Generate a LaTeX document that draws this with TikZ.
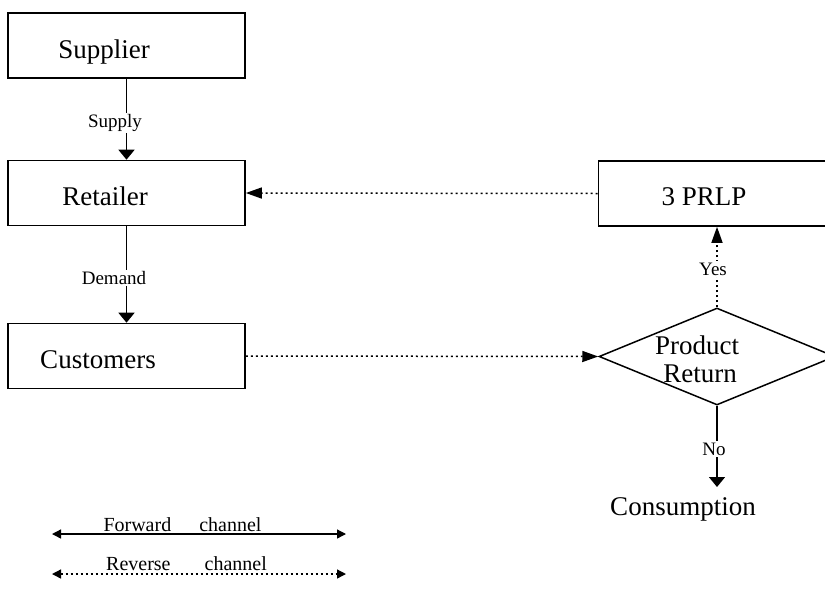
\documentclass[tikz,border=0pt]{standalone}
\usepackage{fontspec}
\setmainfont{Liberation Serif}
\usetikzlibrary{arrows.meta,shapes.geometric}
\begin{document}
\begin{tikzpicture}[x=1pt,y=-1pt,
  box/.style={draw,line width=1.6pt,minimum width=237pt,minimum height=65pt,inner sep=0pt},
  big/.style={font=\fontsize{27}{30}\selectfont,anchor=base,inner sep=0pt},
  small/.style={font=\fontsize{19}{22}\selectfont,fill=white,inner sep=1.5pt},
  legtext/.style={font=\fontsize{20}{22}\selectfont,anchor=base,inner sep=0pt},
  solidarrow/.style={line width=1.5pt,-{Triangle[width=16pt,length=10pt]}},
  dotline/.style={line width=1.5pt,dash pattern=on 2pt off 3pt},
  dotarrow/.style={dotline,-{Triangle[width=11pt,length=16pt]}},
  legarrow/.style={line width=1.3pt,{Triangle[width=9pt,length=9pt]}-{Triangle[width=9pt,length=9pt]}},
]
\useasboundingbox (0,0) rectangle (825,606);
\clip (0,0) rectangle (825,606);

% boxes
\node[box] (sup) at (126.5,45.5) {};
\node[box] (ret) at (126.5,193) {};
\node[box] (cus) at (126.5,356) {};
\node[box] (prlp) at (717,193.5) {};
\node[draw,diamond,line width=1.5pt,minimum width=236pt,minimum height=97pt,inner sep=0pt,aspect=2.43] (dia) at (717,356.5) {};

% texts
\node[big] (supt) at (104,58.5) {Supplier};
\node[big] (rett) at (105,205.5) {Retailer};
\node[big] (cust) at (98,368.5) {Customers};
\node[big] (prlpt) at (704,205.5) {3 PRLP};
\node[big] (prodt) at (697,354) {Product};
\node[big] (retnt) at (700,382) {Return};
\node[big] (cons) at (683,515) {Consumption};
\coordinate (consTop) at (717,487);

% connectors
\draw[solidarrow] (sup.south) -- (ret.north);
\node[small] (supply) at (115,123) {Supply};
\draw[solidarrow] (ret.south) -- (cus.north);
\node[small] (demand) at (114,278) {Demand};
\draw[dotarrow] (prlp.west) -- (ret.east);
\draw[dotarrow] (cus.east) -- (dia.west);
\draw[dotarrow] (dia.north) -- (prlp.south);
\node[small] (yes) at (713,269) {Yes};
\draw[solidarrow] (dia.south) -- (consTop);
\node[small] (no) at (714,449) {No};

% legend
\coordinate (f1) at (52,534);
\coordinate (f2) at (346,534);
\draw[legarrow] (f1) -- (f2);
\node[legtext] (fwd) at (182.5,531.5) {Forward\hspace{28pt}channel};
\coordinate (r1) at (52,574);
\coordinate (r2) at (346,574);
\draw[legarrow,dash pattern=on 2pt off 3pt] (r1) -- (r2);
\node[legtext] (rev) at (186.5,570.5) {Reverse\hspace{34pt}channel};
\end{tikzpicture}
\end{document}
